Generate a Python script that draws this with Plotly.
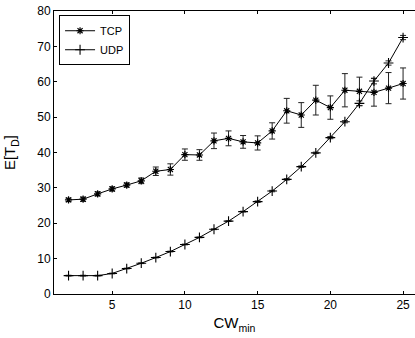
import plotly.graph_objects as go

cw = list(range(2, 26))
tcp = [26.6, 26.8, 28.3, 29.7, 30.8, 32.0, 34.7, 35.2, 39.4, 39.3, 43.3, 44.0, 43.0, 42.7,
       46.1, 51.8, 50.6, 54.8, 52.7, 57.6, 57.3, 57.0, 58.2, 59.5]
tcp_err = [0.5, 0.6, 0.6, 0.6, 0.6, 0.8, 1.2, 1.6, 1.6, 1.5, 2.2, 2.1, 1.8, 2.0,
           2.3, 3.5, 3.5, 4.2, 3.3, 4.7, 4.0, 3.9, 4.4, 4.4]
udp = [5.2, 5.2, 5.2, 5.8, 7.2, 8.7, 10.3, 12.0, 14.0, 16.0, 18.3, 20.6, 23.3, 26.1,
       29.1, 32.4, 36.0, 39.9, 44.2, 48.7, 53.9, 60.2, 65.3, 72.5]
udp_err = [0.1, 0.1, 0.1, 0.1, 0.1, 0.1, 0.1, 0.1, 0.1, 0.1, 0.1, 0.1, 0.1, 0.2,
           0.2, 0.2, 0.2, 0.2, 0.3, 0.3, 0.7, 0.8, 0.6, 0.6]
x_ticks = [5, 10, 15, 20, 25]
y_ticks = [0, 10, 20, 30, 40, 50, 60, 70, 80]

font = "Liberation Sans, Arial, sans-serif"

fig = go.Figure()
fig.add_trace(go.Scatter(
    x=cw, y=tcp, name="TCP", mode="lines+markers",
    line=dict(color="black", width=1),
    marker=dict(symbol="asterisk-open", size=6, color="black", line=dict(color="black", width=1.2)),
    error_y=dict(type="data", array=tcp_err, color="#222", thickness=1, width=3),
))
fig.add_trace(go.Scatter(
    x=cw, y=udp, name="UDP", mode="lines+markers",
    line=dict(color="black", width=1),
    marker=dict(symbol="cross-thin-open", size=7, color="black", line=dict(color="black", width=1.1)),
    error_y=dict(type="data", array=udp_err, color="#222", thickness=1, width=3),
))

fig.update_layout(
    width=415, height=338,
    margin=dict(l=54, r=0, t=11, b=44),
    paper_bgcolor="white", plot_bgcolor="white",
    font=dict(family=font, size=12, color="black"),
    showlegend=True,
    legend=dict(x=0.014, y=0.985, xanchor="left", yanchor="top",
                bordercolor="black", borderwidth=1, bgcolor="white",
                font=dict(size=11), tracegroupgap=0, itemwidth=30),
)
fig.update_xaxes(
    range=[1.0, 25.82], tickvals=x_ticks, ticks="inside", ticklen=3, tickcolor="black",
    showline=True, linecolor="black", linewidth=1, mirror="ticks", showgrid=False, zeroline=False,
    title=dict(text="CW<sub>min</sub>", font=dict(size=15), standoff=6),
    tickfont=dict(size=12),
)
fig.update_yaxes(
    range=[0, 80], tickvals=y_ticks, ticks="inside", ticklen=3, tickcolor="black",
    showline=True, linecolor="black", linewidth=1, showgrid=False, zeroline=False,
    title=dict(text="E[T<sub>D</sub>]", font=dict(size=15), standoff=17),
    tickfont=dict(size=12),
)

fig.write_html("out.html")
